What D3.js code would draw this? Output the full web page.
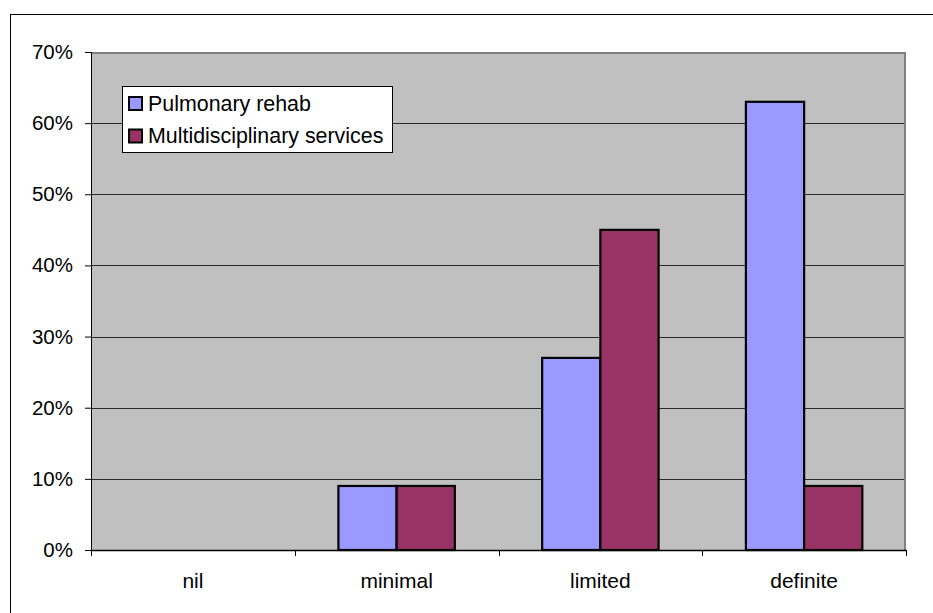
<!DOCTYPE html>
<html>
<head>
<meta charset="utf-8">
<script src="https://cdn.jsdelivr.net/npm/d3@7"></script>
<style>
  html, body { margin: 0; padding: 0; background: #fff; }
  svg { display: block; font-family: Arial, "Liberation Sans", sans-serif; }
</style>
</head>
<body>
<svg id="chart" width="933" height="613"></svg>
<script>
// Data
const categories = ["nil", "minimal", "limited", "definite"];
const seriesNames = ["Pulmonary rehab", "Multidisciplinary services"];
const pulmonaryRehab = [0, 9, 27, 63];
const multidisciplinary = [0, 9, 45, 9];
const yTicks = [0, 10, 20, 30, 40, 50, 60, 70];
const seriesColors = ["#9999FF", "#993366"];

const seriesValues = [pulmonaryRehab, multidisciplinary];

const svg = d3.select("#chart");

// Plot geometry
const plotLeft = 91, plotRight = 906, plotTop = 52, plotBottom = 550;

// Outer frame (left and top edges visible)
svg.append("rect")
  .attr("x", 10.5).attr("y", 14.5)
  .attr("width", 1000).attr("height", 1000)
  .attr("fill", "none").attr("stroke", "#000").attr("stroke-width", 1);

const x = d3.scaleBand().domain(categories).range([plotLeft, plotRight]).padding(0);
const xs = d3.scaleBand().domain(d3.range(seriesNames.length))
  .range([0, x.bandwidth()]).paddingInner(0).paddingOuter(0.75);
const y = d3.scaleLinear().domain([0, 70]).range([plotBottom, plotTop]);

// Plot background
svg.append("rect")
  .attr("x", plotLeft).attr("y", plotTop)
  .attr("width", plotRight - plotLeft).attr("height", plotBottom - plotTop)
  .attr("fill", "#C0C0C0");

// Gridlines
svg.append("g").selectAll("line")
  .data(yTicks.filter(t => t > 0 && t < 70))
  .join("line")
  .attr("x1", plotLeft).attr("x2", plotRight)
  .attr("y1", d => Math.round(y(d)) + 0.5).attr("y2", d => Math.round(y(d)) + 0.5)
  .attr("stroke", "#2a2a2a").attr("stroke-width", 1);

// Plot border: top and right in grey
svg.append("path")
  .attr("d", `M${plotLeft},${plotTop + 1}H${plotRight - 1}V${plotBottom}`)
  .attr("fill", "none").attr("stroke", "#808080").attr("stroke-width", 2);

// Bars
const groups = svg.append("g").selectAll("g")
  .data(categories)
  .join("g")
  .attr("transform", d => `translate(${x(d)},0)`);

groups.selectAll("rect")
  .data((d, i) => seriesValues.map((vals, s) => ({ s, v: vals[i] })).filter(o => o.v > 0))
  .join("rect")
  .attr("x", d => xs(d.s))
  .attr("width", xs.bandwidth())
  .attr("y", d => y(d.v))
  .attr("height", d => y(0) - y(d.v))
  .attr("fill", d => seriesColors[d.s])
  .attr("stroke", "#000").attr("stroke-width", 2.2);

// Y axis
const yAxis = d3.axisLeft(y).tickValues(yTicks).tickFormat(d => d + "%").tickSizeOuter(0).tickSize(6).tickPadding(12);
const yg = svg.append("g").attr("transform", `translate(${plotLeft},0)`).call(yAxis);
yg.select(".domain").attr("stroke", "#000");
yg.selectAll(".tick line").attr("stroke", "#000");
yg.selectAll("text").attr("font-size", 20.5).attr("fill", "#000").attr("font-family", "Arial, 'Liberation Sans', sans-serif");

// X axis
const xAxis = d3.axisBottom(x).tickSize(0).tickSizeOuter(0);
const xg = svg.append("g").attr("transform", `translate(0,${plotBottom})`).call(xAxis);
xg.select(".domain").attr("stroke", "#000").attr("stroke-width", 1.5);
xg.selectAll("text").attr("font-size", 21).attr("fill", "#000")
  .attr("font-family", "Arial, 'Liberation Sans', sans-serif")
  .attr("dy", null).attr("y", 38);

// Category boundary ticks
svg.append("g").selectAll("line")
  .data(d3.range(categories.length + 1))
  .join("line")
  .attr("x1", i => Math.round(plotLeft + i * x.step()) + 0.5)
  .attr("x2", i => Math.round(plotLeft + i * x.step()) + 0.5)
  .attr("y1", plotBottom).attr("y2", plotBottom + 6)
  .attr("stroke", "#000");

// Legend
const legend = svg.append("g");
legend.append("rect")
  .attr("x", 122.5).attr("y", 86.5)
  .attr("width", 270).attr("height", 66)
  .attr("fill", "#fff").attr("stroke", "#000").attr("stroke-width", 1);

const items = legend.selectAll("g.item")
  .data(seriesNames)
  .join("g")
  .attr("class", "item")
  .attr("transform", (d, i) => `translate(129,${97 + i * 32.5})`);

items.append("rect")
  .attr("x", 0).attr("y", 0)
  .attr("width", 13).attr("height", 13)
  .attr("fill", (d, i) => seriesColors[i])
  .attr("stroke", "#000").attr("stroke-width", 2);

items.append("text")
  .attr("x", 19).attr("y", 13.5)
  .attr("font-size", 21.4)
  .attr("fill", "#000")
  .text(d => d);
</script>
</body>
</html>
